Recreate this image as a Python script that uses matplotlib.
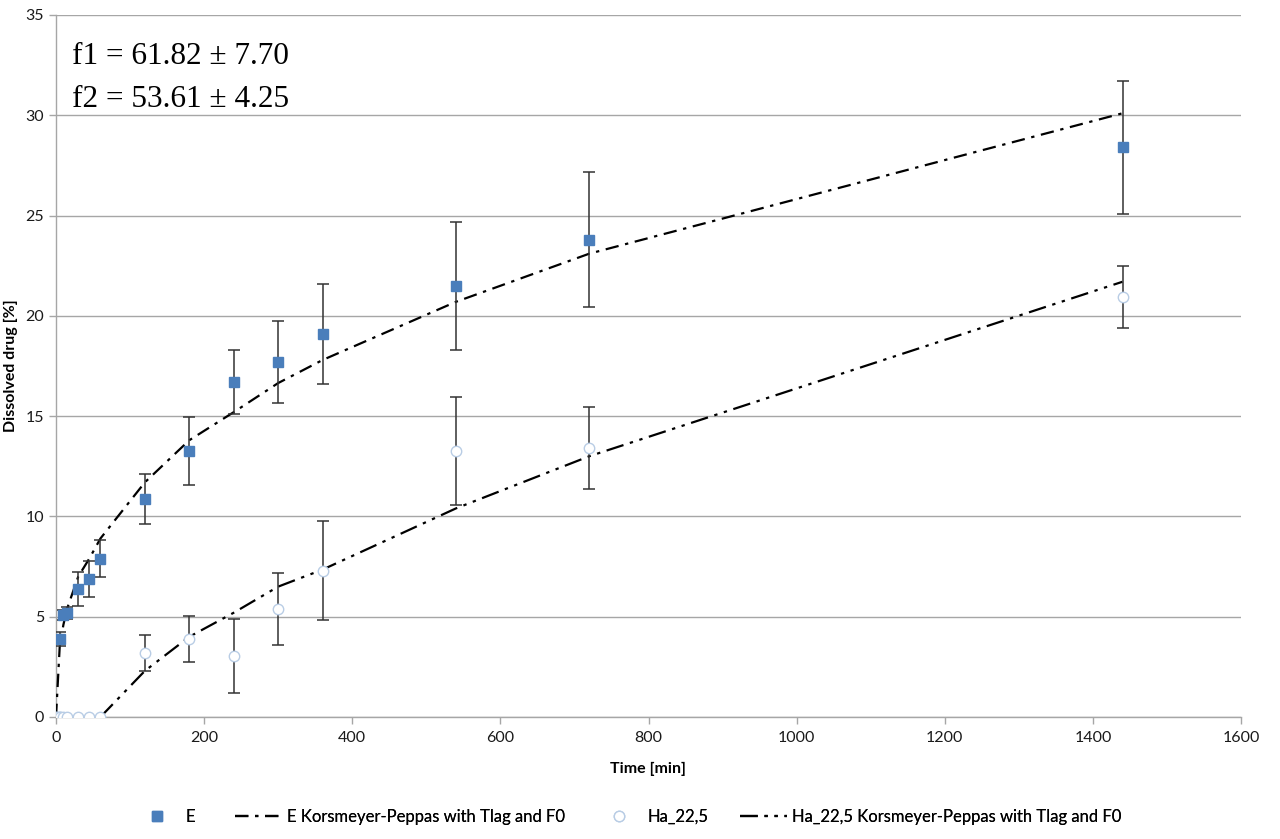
import matplotlib
matplotlib.use("Agg")
import matplotlib.pyplot as plt
import numpy as np

# ---- data ----
time_min = [0, 5, 10, 15, 30, 45, 60, 120, 180, 240, 300, 360, 540, 720, 1440]

E_mean = [0, 3.9, 5.1, 5.2, 6.4, 6.9, 7.9, 10.85, 13.25, 16.7, 17.7, 19.1, 21.5, 23.8, 28.4]
E_err = [0, 0.35, 0.25, 0.3, 0.85, 0.9, 0.9, 1.25, 1.7, 1.6, 2.05, 2.5, 3.2, 3.35, 3.3]

Ha_mean = [0, 0, 0, 0, 0, 0, 0, 3.2, 3.9, 3.05, 5.4, 7.3, 13.25, 13.4, 20.95]
Ha_err = [0, 0, 0, 0, 0, 0, 0, 0.9, 1.15, 1.85, 1.8, 2.45, 2.7, 2.05, 1.55]

E_fit = [0, 3.5, 4.6, 5.4, 7.0, 7.9, 8.9, 11.7, 13.8, 15.2, 16.65, 17.8, 20.7, 23.1, 30.1]
Ha_fit = [0, 0, 0, 0, 0, 0, 0, 2.3, 4.0, 5.2, 6.5, 7.35, 10.4, 13.0, 21.7]

labels = ["E", "E Korsmeyer-Peppas with Tlag and F0",
          "Ha_22,5", "Ha_22,5 Korsmeyer-Peppas with Tlag and F0"]
annot = ["f1 = 61.82 \u00b1 7.70", "f2 = 53.61 \u00b1 4.25"]

# ---- figure ----
W, H = 1280, 839
fig = plt.figure(figsize=(12.8, 8.39), dpi=100)
ax = fig.add_axes([56/W, 1-717/H, (1241-56)/W, (717-15)/H])

grid_c = "#a6a6a6"
ax.set_xlim(0, 1600)
ax.set_ylim(0, 35)
ax.set_yticks(np.arange(0, 36, 5))
ax.set_xticks(np.arange(0, 1601, 200))
ax.yaxis.grid(True, color=grid_c, lw=1.0)
ax.set_axisbelow(True)
for s in ["top", "right"]:
    ax.spines[s].set_visible(False)
for s in ["left", "bottom"]:
    ax.spines[s].set_color(grid_c)
    ax.spines[s].set_linewidth(1.0)
ax.tick_params(axis="both", colors=grid_c, length=5, width=1.0, labelcolor="#1a1a1a",
               labelsize=11.5)
ax.tick_params(axis="x", pad=5)
for lab in ax.get_xticklabels() + ax.get_yticklabels():
    lab.set_family("Lato")

# fit lines
l_efit, = ax.plot(time_min, E_fit, color="black", lw=1.6,
                  dashes=(6, 3, 1.5, 3), zorder=3)
l_hafit, = ax.plot(time_min, Ha_fit, color="black", lw=1.6,
                   dashes=(8, 3, 1.5, 3, 1.5, 3), zorder=3)

# error bars
ax.errorbar(time_min, E_mean, yerr=E_err, fmt="none", ecolor="#333333",
            elinewidth=1.1, capsize=4, capthick=1.1, zorder=4)
ax.errorbar(time_min, Ha_mean, yerr=Ha_err, fmt="none", ecolor="#333333",
            elinewidth=1.1, capsize=4, capthick=1.1, zorder=4)

# markers
l_e, = ax.plot(time_min, E_mean, ls="none", marker="s", ms=7.5,
               mfc="#4a7ebb", mec="#4a7ebb", zorder=5)
l_ha, = ax.plot(time_min, Ha_mean, ls="none", marker="o", ms=7.5,
                mfc="white", mec="#b9cde5", mew=1.0, zorder=5)

ax.set_xlabel("Time [min]", fontsize=11.5, fontweight="bold", family="Lato", labelpad=12)
ax.set_ylabel("Dissolved drug [%]", fontsize=11.5, fontweight="bold", family="Lato", labelpad=5)

# annotation
ax.text(0.0135, 0.962, annot[0], transform=ax.transAxes, family="Liberation Serif",
        fontsize=22.5, va="top", ha="left")
ax.text(0.0135, 0.900, annot[1], transform=ax.transAxes, family="Liberation Serif",
        fontsize=22.5, va="top", ha="left")

# legend: one entry per box, placed like the reference
handles = [l_e, l_efit, l_ha, l_hafit]
starts = [134, 235, 596, 740]
fs = 12
for h, lab, x0 in zip(handles, labels, starts):
    lg = fig.legend([h], [lab], loc="center left",
                    bbox_to_anchor=(x0/W, 1-817/H), frameon=False,
                    prop={"family": "Lato", "size": fs},
                    borderpad=0, borderaxespad=0,
                    handlelength=2.8, handletextpad=0.3)
    fig.add_artist(lg)

fig.savefig("out.png", dpi=100)
